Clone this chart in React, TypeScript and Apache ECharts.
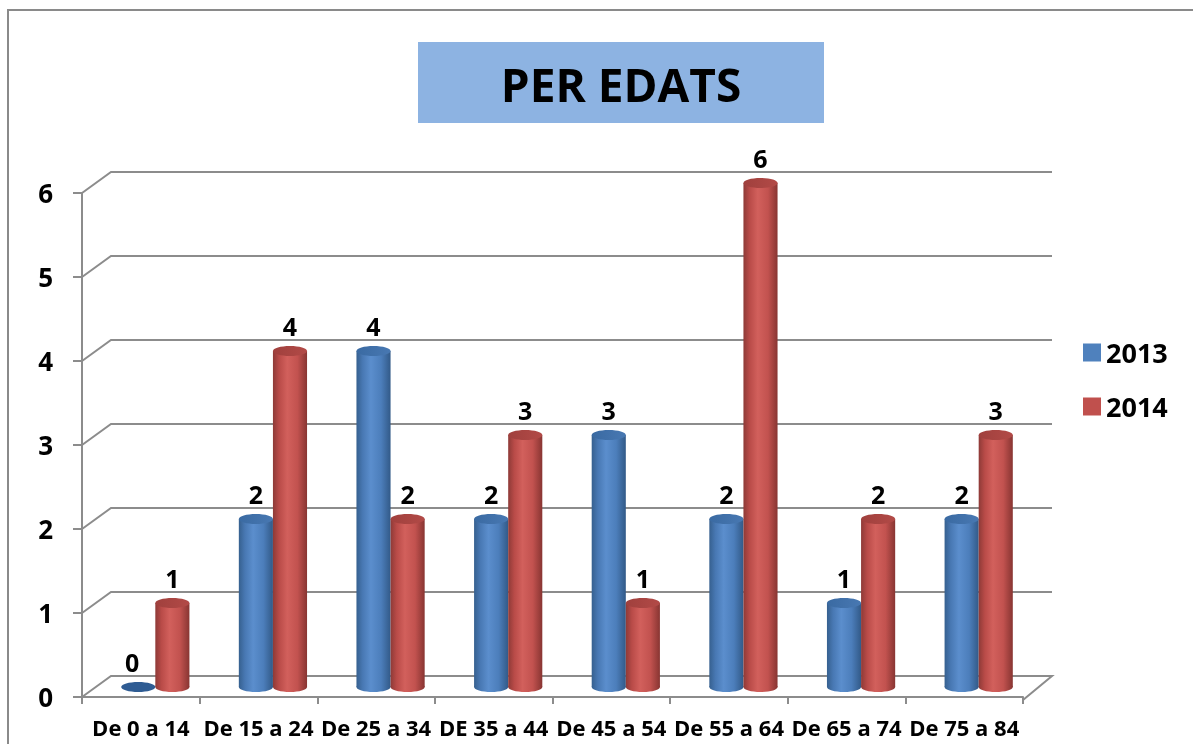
import React, { useEffect, useRef } from "react";
import * as echarts from "echarts";

const categories = [
  "De 0 a 14",
  "De 15 a 24",
  "De 25 a 34",
  "DE 35 a 44",
  "De 45 a 54",
  "De 55 a 64",
  "De 65 a 74",
  "De 75 a 84",
];
const values2013 = [0, 2, 4, 2, 3, 2, 1, 2];
const values2014 = [1, 4, 2, 3, 1, 6, 2, 3];
const seriesNames = ["2013", "2014"];
const yTicks = [0, 1, 2, 3, 4, 5, 6];
const titleText = "PER EDATS";

const FONT = "'Open Sans', 'Noto Sans', sans-serif";
const GRAY = "#8c8c8c";
const DX = 29;
const DY = 21;

const bodyStops = [
  [
    { offset: 0, color: "#36608f" },
    { offset: 0.18, color: "#4878b3" },
    { offset: 0.42, color: "#5b8ecd" },
    { offset: 0.72, color: "#4c7ebb" },
    { offset: 1, color: "#325a88" },
  ],
  [
    { offset: 0, color: "#8e3a37" },
    { offset: 0.18, color: "#b94b48" },
    { offset: 0.42, color: "#d2605c" },
    { offset: 0.72, color: "#c2524f" },
    { offset: 1, color: "#883532" },
  ],
];
const capColors = [
  ["#3a6aa2", "#4878b2"],
  ["#a0403d", "#b24a47"],
];

function makeBarRender(idx: number) {
  return (params: any, api: any) => {
    const i = api.value(0);
    const v = api.value(1);
    const base = api.coord([i, 0]);
    const top = api.coord([i, v]);
    const catW = api.size([1, 0])[0];
    const r = catW * 0.145;
    const cx = base[0] + DX / 2 + (idx === 0 ? -r : r);
    const by = base[1] - 10;
    const ty = top[1] - 10;
    const ry = 5;
    const grad = new echarts.graphic.LinearGradient(0, 0, 1, 0, bodyStops[idx]);
    const capGrad = new echarts.graphic.LinearGradient(0, 0, 1, 0, [
      { offset: 0, color: capColors[idx][0] },
      { offset: 1, color: capColors[idx][1] },
    ]);
    const children: any[] = [];
    if (v > 0) {
      children.push({
        type: "ellipse",
        shape: { cx, cy: by, rx: r, ry },
        style: { fill: grad },
      });
      children.push({
        type: "rect",
        shape: { x: cx - r, y: ty, width: 2 * r, height: by - ty },
        style: { fill: grad },
      });
    }
    children.push({
      type: "ellipse",
      shape: { cx, cy: ty, rx: r, ry },
      style: { fill: v > 0 ? capGrad : "#2f5c93" },
    });
    children.push({
      type: "text",
      x: cx - (v === 0 ? 6 : 0),
      y: ty - 25,
      style: {
        text: String(v),
        fontSize: 25,
        fontWeight: "bold",
        fontFamily: FONT,
        fill: "#000",
        align: "center",
        verticalAlign: "middle",
      },
    });
    return { type: "group", children };
  };
}

function gridRender(params: any, api: any) {
  const cs = params.coordSys;
  const v = api.value(1);
  const y = api.coord([0, v])[1];
  const x0 = cs.x;
  const x1 = cs.x + cs.width;
  const pts =
    v === 0
      ? [
          [x0, y],
          [x0 + DX, y - DY],
          [x1 + DX, y - DY],
          [x1, y + 3],
        ]
      : [
          [x0, y],
          [x0 + DX, y - DY],
          [x1 + DX, y - DY],
        ];
  return {
    type: "polyline",
    shape: { points: pts },
    style: { stroke: GRAY, lineWidth: 2, fill: null },
  };
}

export default function App() {
  const ref = useRef<HTMLDivElement>(null);
  useEffect(() => {
    if (!ref.current) return;
    const chart = echarts.init(ref.current, null, { renderer: "svg" });
    chart.setOption({
      animation: false,
      color: ["#4F81BD", "#C0504D"],
      grid: { left: 82, top: 193, width: 941, height: 504 },
      graphic: [
        {
          type: "rect",
          shape: { x: 8, y: 10, width: 1300, height: 900 },
          style: { stroke: "#8a8a8a", lineWidth: 2, fill: "transparent" },
          z: -10,
          silent: true,
        },
        {
          type: "rect",
          shape: { x: 418, y: 42, width: 406, height: 81 },
          style: { fill: "#8db3e2" },
          silent: true,
        },
        {
          type: "text",
          x: 621,
          y: 84,
          style: {
            text: titleText,
            fontSize: 46,
            fontWeight: "bold",
            fontFamily: FONT,
            fill: "#000",
            align: "center",
            verticalAlign: "middle",
          },
          silent: true,
        },
      ],
      legend: {
        data: seriesNames,
        orient: "vertical",
        left: 1078,
        top: 334,
        icon: "rect",
        itemWidth: 18,
        itemHeight: 18,
        itemGap: 27,
        selectedMode: false,
        textStyle: {
          fontSize: 27,
          fontWeight: "bold",
          fontFamily: FONT,
          color: "#000",
        },
      },
      xAxis: {
        type: "category",
        data: categories,
        boundaryGap: true,
        offset: 3,
        axisLine: { show: true, lineStyle: { color: GRAY, width: 2 } },
        axisTick: { show: true, length: 7, lineStyle: { color: GRAY, width: 2 } },
        axisLabel: {
          interval: 0,
          fontSize: 22,
          lineHeight: 20,
          fontWeight: "bold",
          fontFamily: FONT,
          color: "#000",
          margin: 17,
        },
        splitLine: { show: false },
      },
      yAxis: {
        type: "value",
        min: 0,
        max: 6,
        interval: 1,
        axisLine: { show: true, lineStyle: { color: GRAY, width: 2 } },
        axisTick: { show: true, length: 9, lineStyle: { color: GRAY, width: 2 } },
        axisLabel: {
          fontSize: 26,
          fontWeight: "bold",
          fontFamily: FONT,
          color: "#000",
          margin: 29,
        },
        splitLine: { show: false },
      },
      series: [
        {
          name: seriesNames[0],
          type: "custom",
          renderItem: makeBarRender(0),
          data: values2013.map((v, i) => [i, v]),
          encode: { x: 0, y: 1 },
          itemStyle: { color: "#4F81BD" },
          z: 5,
          silent: true,
        },
        {
          name: seriesNames[1],
          type: "custom",
          renderItem: makeBarRender(1),
          data: values2014.map((v, i) => [i, v]),
          encode: { x: 0, y: 1 },
          itemStyle: { color: "#C0504D" },
          z: 6,
          silent: true,
        },
        {
          name: "grid",
          type: "custom",
          renderItem: gridRender,
          data: yTicks.map((v) => [0, v]),
          encode: { x: 0, y: 1 },
          z: 1,
          silent: true,
        },
      ],
    });
    return () => chart.dispose();
  }, []);
  return (
    <div
      ref={ref}
      style={{ position: "fixed", left: 0, top: 0, width: 1193, height: 744 }}
    />
  );
}
